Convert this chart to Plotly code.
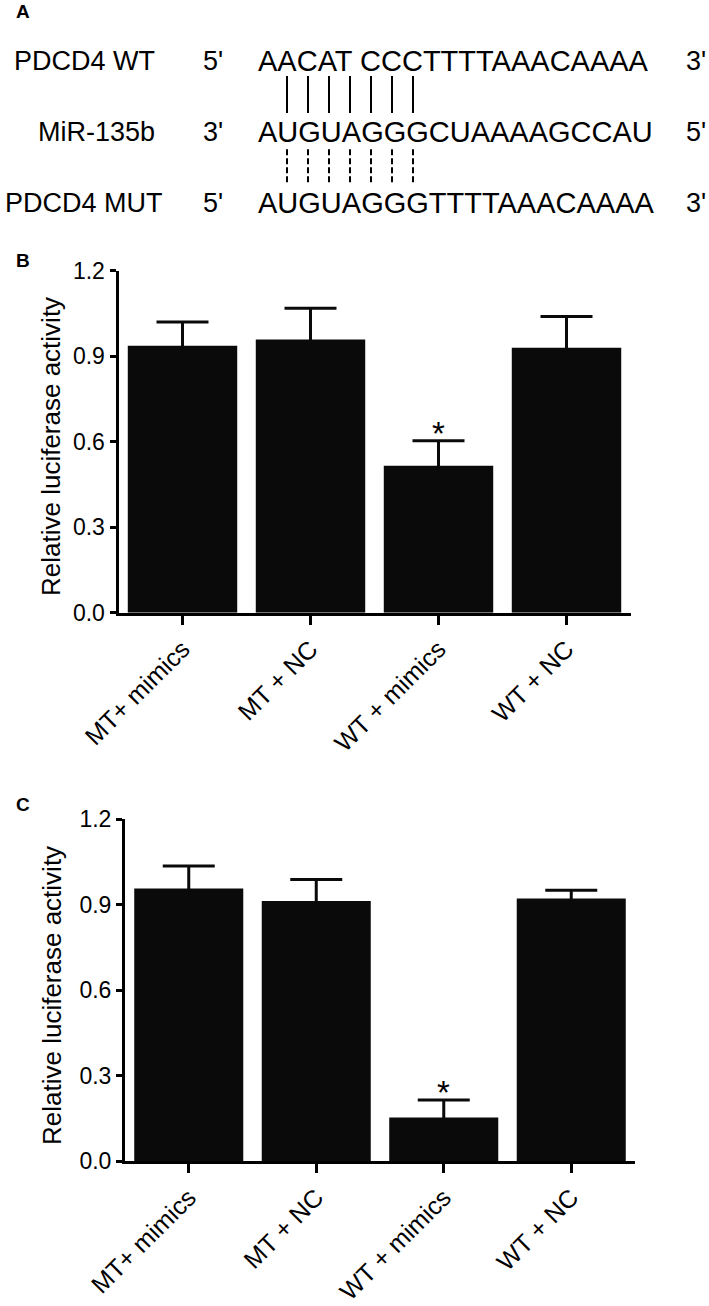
import plotly.graph_objects as go

# ---------------- data ----------------
categories = ["MT+ mimics", "MT + NC", "WT + mimics", "WT + NC"]
b_values = [0.937, 0.959, 0.516, 0.930]
b_errors = [0.083, 0.109, 0.087, 0.109]
c_values = [0.957, 0.913, 0.153, 0.922]
c_errors = [0.079, 0.076, 0.061, 0.029]
significance = ["", "", "*", ""]
y_ticks = [0.0, 0.3, 0.6, 0.9, 1.2]

row_names = ["PDCD4 WT", "MiR-135b", "PDCD4 MUT"]
sequences = ["AACAT CCCTTTTAAACAAAA", "AUGUAGGGCUAAAAGCCAU", "AUGUAGGGTTTTAAACAAAA"]
left_ends = ["5'", "3'", "5'"]
right_ends = ["3'", "5'", "3'"]
paired_positions = [1, 2, 3, 4, 5, 6, 7]   # seed-region base pairs (index in miR sequence)

# ---------------- layout helpers ----------------
W, H = 709, 1306
FONT = "Liberation Sans, Arial, Helvetica, sans-serif"
BAR_COLOR = "#0a0a0a"


def px_x(p):
    return p / W


def px_y(p):
    return 1 - p / H


# panel A coordinate system: index i -> x 266 + 21 i ; row r -> y 60.5 + 71 r
SEQ_X0, SEQ_DX = 266, 21
ROW_Y0, ROW_DY = 60.5, 71

fig = go.Figure()

# ---------------- panel A (sequence alignment) ----------------
for r0, r1, dash in [(0.22, 0.74, "solid"), (1.25, 1.75, "6px,3px")]:
    xs, ys = [], []
    for p in paired_positions:
        xs += [p, p, None]
        ys += [r0, r1, None]
    fig.add_trace(go.Scatter(x=xs, y=ys, mode="lines", xaxis="x3", yaxis="y3",
                             line=dict(color="black", width=2, dash=dash),
                             hoverinfo="skip", showlegend=False))

label_left = [12, 36, 3]
for i, name in enumerate(row_names):
    fig.add_annotation(text=name, xref="paper", yref="y3", x=px_x(label_left[i]), y=i,
                       xanchor="left", yanchor="middle", showarrow=False,
                       font=dict(family=FONT, size=27, color="black"))
    fig.add_annotation(text=left_ends[i], xref="paper", yref="y3", x=px_x(201), y=i,
                       xanchor="left", yanchor="middle", showarrow=False,
                       font=dict(family=FONT, size=27, color="black"))
    fig.add_annotation(text=right_ends[i], xref="paper", yref="y3", x=px_x(684), y=i,
                       xanchor="left", yanchor="middle", showarrow=False,
                       font=dict(family=FONT, size=27, color="black"))
    fig.add_annotation(text=sequences[i], xref="x3", yref="y3", x=-0.5, y=i,
                       xanchor="left", yanchor="middle", showarrow=False,
                       font=dict(family=FONT, size=29, color="black"))

fig.add_annotation(text="<b>A</b>", xref="paper", yref="paper", x=px_x(22.5), y=px_y(11.5),
                   xanchor="center", yanchor="middle", showarrow=False,
                   font=dict(family=FONT, size=19, color="black"))

# ---------------- panels B and C ----------------
panels = [
    dict(vals=b_values, errs=b_errors, xa="x", ya="y", letter="B",
         xdom=[118.5, 630.5], ydom=[612.7, 270.7], letter_pos=(23.5, 260), title_pos=(51, 447)),
    dict(vals=c_values, errs=c_errors, xa="x2", ya="y2", letter="C",
         xdom=[125, 635], ydom=[1161, 819.3], letter_pos=(22.5, 804.5), title_pos=(52, 996)),
]

for pn in panels:
    fig.add_trace(go.Bar(
        x=categories, y=pn["vals"], xaxis=pn["xa"], yaxis=pn["ya"],
        marker=dict(color=BAR_COLOR, line=dict(width=0)), width=0.855,
        error_y=dict(type="data", array=pn["errs"], symmetric=True,
                     color=BAR_COLOR, thickness=3, width=26),
        showlegend=False, hoverinfo="skip"))
    for cat, v, e, s in zip(categories, pn["vals"], pn["errs"], significance):
        if s:
            fig.add_annotation(text=s, xref=pn["xa"], yref=pn["ya"], x=cat, y=v + e,
                               xanchor="center", yanchor="bottom", showarrow=False, yshift=-13,
                               font=dict(family=FONT, size=33, color="black"))
    fig.add_annotation(text="<b>%s</b>" % pn["letter"], xref="paper", yref="paper",
                       x=px_x(pn["letter_pos"][0]), y=px_y(pn["letter_pos"][1]),
                       xanchor="center", yanchor="middle", showarrow=False,
                       font=dict(family=FONT, size=19, color="black"))
    fig.add_annotation(text="Relative luciferase activity", xref="paper", yref="paper",
                       x=px_x(pn["title_pos"][0]), y=px_y(pn["title_pos"][1]),
                       xanchor="center", yanchor="middle", textangle=-90, showarrow=False,
                       font=dict(family=FONT, size=26, color="black"))

xaxis_common = dict(type="category", range=[-0.5, 3.5], showline=True, linewidth=3, linecolor="black",
                    ticks="outside", ticklen=9, tickwidth=3, tickcolor="black", tickangle=-45,
                    tickfont=dict(family=FONT, size=25, color="black"), showgrid=False, zeroline=False,
                    fixedrange=True, automargin=False)
yaxis_common = dict(range=[0, 1.2], tickvals=y_ticks, ticktext=["%.1f" % t for t in y_ticks],
                    showline=True, linewidth=3, linecolor="black", ticks="outside", ticklen=6,
                    tickwidth=3, tickcolor="black", tickfont=dict(family=FONT, size=23, color="black"),
                    showgrid=False, zeroline=False, fixedrange=True, automargin=False)

b, c = panels
fig.update_layout(
    template="none",
    width=W, height=H, autosize=False,
    margin=dict(l=0, r=0, t=0, b=0, pad=0, autoexpand=False),
    paper_bgcolor="white", plot_bgcolor="white",
    font=dict(family=FONT, color="black"),
    showlegend=False,
    xaxis=dict(xaxis_common, domain=[px_x(b["xdom"][0]), px_x(b["xdom"][1])], anchor="y"),
    yaxis=dict(yaxis_common, domain=[px_y(b["ydom"][0]), px_y(b["ydom"][1])], anchor="x"),
    xaxis2=dict(xaxis_common, domain=[px_x(c["xdom"][0]), px_x(c["xdom"][1])], anchor="y2"),
    yaxis2=dict(yaxis_common, domain=[px_y(c["ydom"][0]), px_y(c["ydom"][1])], anchor="x2"),
    xaxis3=dict(domain=[0, 1], range=[-SEQ_X0 / SEQ_DX, (W - SEQ_X0) / SEQ_DX],
                visible=False, anchor="y3", fixedrange=True, automargin=False),
    yaxis3=dict(domain=[px_y(240), 1], range=[(240 - ROW_Y0) / ROW_DY, -ROW_Y0 / ROW_DY],
                visible=False, anchor="x3", fixedrange=True, automargin=False),
)

fig.write_html("out.html", config=dict(displayModeBar=False),
               post_script="document.body.style.margin='0px';document.body.style.overflow='hidden';")
